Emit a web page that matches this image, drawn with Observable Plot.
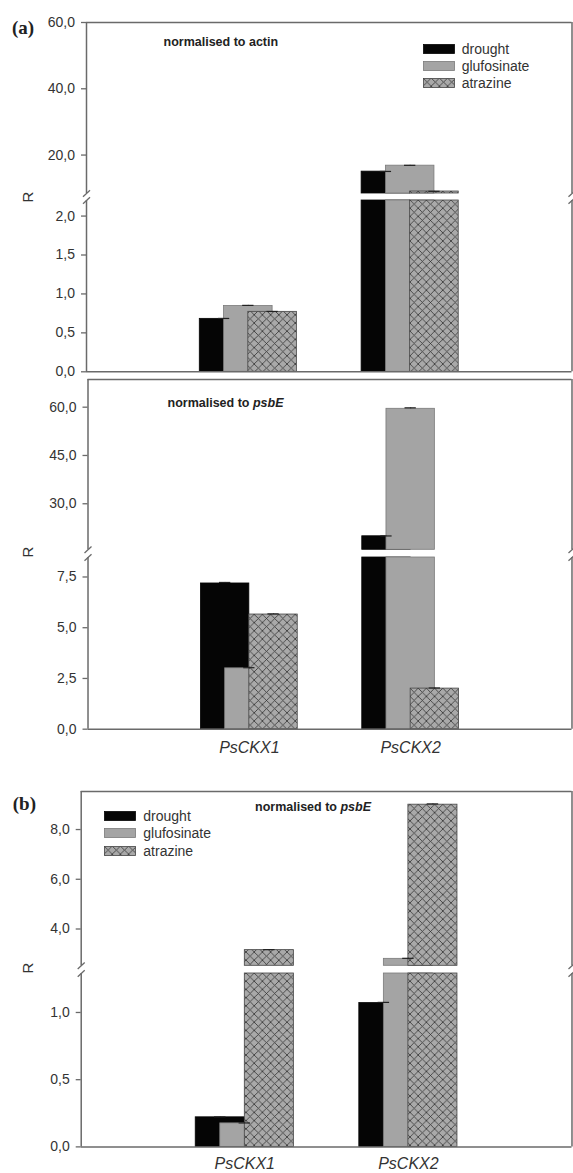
<!DOCTYPE html>
<html>
<head>
<meta charset="utf-8">
<script src="https://cdn.jsdelivr.net/npm/d3@7"></script>
<script src="https://cdn.jsdelivr.net/npm/@observablehq/plot@0.6"></script>
<style>
  body { margin: 0; background: #fff; }
  #fig { position: relative; width: 573px; height: 1173px; overflow: hidden;
         font-family: "Liberation Sans", Arial, sans-serif; color: #333; background: #fff; }
  .seg { position: absolute; left: 0; }
  .ov { position: absolute; white-space: nowrap; line-height: 1; }
  .title { font-weight: bold; font-size: 12.5px; color: #222; transform: translate(-50%, -50%); }
  .ylab { font-size: 15px; color: #333; transform: translate(-50%, -50%) rotate(-90deg); }
  .plabel { font-family: "Liberation Serif", "Times New Roman", serif; font-weight: bold; font-size: 19px; color: #222; transform: translateY(-50%); }
  .legtxt { font-size: 14px; color: #333; transform: translateY(-50%); }
  .sw { position: absolute; transform: translateY(-50%); }
</style>
</head>
<body>
<div id="fig"></div>
<script>
// ---------- data ----------
const genes = ["PsCKX1", "PsCKX2"];
const treatments = ["drought", "glufosinate", "atrazine"];

// (a) normalised to actin
const actinDrought     = [0.68, 15.0];
const actinGlufosinate = [0.845, 16.8];
const actinAtrazine    = [0.77, 9.0];
const actinErrDrought     = [0.005, 0.05];
const actinErrGlufosinate = [0.008, 0.1];
const actinErrAtrazine    = [0.005, 0.05];

// (a) normalised to psbE
const psbEaDrought     = [7.18, 19.9];
const psbEaGlufosinate = [3.0, 59.5];
const psbEaAtrazine    = [5.65, 2.0];
const psbEaErrDrought     = [0.05, 0.1];
const psbEaErrGlufosinate = [0.03, 0.3];
const psbEaErrAtrazine    = [0.03, 0.03];

// (b) normalised to psbE
const psbEbDrought     = [0.22, 1.07];
const psbEbGlufosinate = [0.175, 2.8];
const psbEbAtrazine    = [3.15, 9.0];
const psbEbErrDrought     = [0.003, 0.005];
const psbEbErrGlufosinate = [0.003, 0.02];
const psbEbErrAtrazine    = [0.02, 0.03];

// broken y-axis: lower and upper segment domains
const actinLower = [0, 2.2],  actinUpper = [8.4, 60];
const psbEaLower = [0, 8.46], psbEaUpper = [15.7, 68.6];
const psbEbLower = [0, 1.29], psbEbUpper = [2.52, 9.53];

const actinTicksLower = [0, 0.5, 1.0, 1.5, 2.0], actinTicksUpper = [20, 40, 60];
const psbEaTicksLower = [0, 2.5, 5.0, 7.5],      psbEaTicksUpper = [30, 45, 60];
const psbEbTicksLower = [0, 0.5, 1.0],           psbEbTicksUpper = [4, 6, 8];

// ---------- drawing ----------
const fmt = d => d.toFixed(1).replace(".", ",");
const fig = document.getElementById("fig");
const NS = "http://www.w3.org/2000/svg";
const W = 573;
const axisStroke = "#6a6a6a";
let patCount = 0;

function patternDefs(id) {
  return `<pattern id="${id}" patternUnits="userSpaceOnUse" width="8.2" height="8.2">
    <rect width="8.2" height="8.2" fill="#a9a9a9"/>
    <path d="M0,0L8.2,8.2M8.2,0L0,8.2" stroke="#333" stroke-width="0.8" fill="none"/>
  </pattern>`;
}

// one segment of a broken-axis panel
function segment({T, B, domain, upper, mt, mb, xR, values, errors, ticks, showX, xPad, drawTop}) {
  const patId = "hatch" + (patCount++);
  const [lo, hi] = domain;
  const rows = [];
  genes.forEach((g, gi) => treatments.forEach((t, si) =>
    rows.push({gene: g, gi, treatment: t, si, value: values[si][gi], err: errors[si][gi]})));
  const half = 0.15; // half bar width, in category units
  const center = d => d.gi + 1 + (d.si - 1) * half;
  const left = d => d.gi + 1 + (d.si - 2) * half;
  const right = d => left(d) + 2 * half;

  const fills = ["#050505", "#a4a4a4", `url(#${patId})`];
  const strokes = ["#050505", "#7a7a7a", "#444"];

  const ppu = (B - T) / (hi - lo);            // px per data unit (y)
  const ppx = (xR[1] - xR[0]) / 3;            // px per category unit (x)
  const edge = upper ? lo : hi;               // value at the break
  const breaks = [0, 3].map(xv => ({
    x1: xv - 3.5 / ppx, y1: edge - 3.2 / ppu, x2: xv + 3.5 / ppx, y2: edge + 3.2 / ppu
  }));

  const marks = [];
  treatments.forEach((t, k) => {
    marks.push(Plot.rect(rows.filter(d => d.si === k && d.value > lo), {
      x1: left, x2: right, y1: () => Math.max(0, lo), y2: d => Math.min(d.value, hi),
      fill: fills[k], stroke: strokes[k], strokeWidth: 0.8
    }));
  });
  const capRows = rows.filter(d => d.value > lo && d.value + d.err < hi);
  marks.push(Plot.ruleX(capRows, {x: center, y1: "value", y2: d => d.value + d.err, stroke: "#222", strokeWidth: 1}));
  marks.push(Plot.ruleY(capRows, {y: d => d.value + d.err, x1: d => center(d) - 0.035, x2: d => center(d) + 0.035, stroke: "#222", strokeWidth: 1.2}));
  // frame
  marks.push(Plot.ruleX([0, 3], {y1: () => lo, y2: () => hi, stroke: axisStroke, strokeWidth: 1.5}));
  if (drawTop) marks.push(Plot.ruleY([hi], {x1: () => 0, x2: () => 3, stroke: axisStroke, strokeWidth: 1.5}));
  if (!upper) marks.push(Plot.ruleY([0], {x1: () => 0, x2: () => 3, stroke: axisStroke, strokeWidth: 1.5}));
  marks.push(Plot.link(breaks, {x1: "x1", y1: "y1", x2: "x2", y2: "y2", stroke: axisStroke, strokeWidth: 1.3}));
  marks.push(Plot.axisY(ticks, {tickFormat: fmt, tickSize: 5, tickPadding: 6.5, fontSize: 14,
    stroke: axisStroke, fill: "#333", strokeWidth: 1.3, label: null}));
  if (showX) {
    marks.push(Plot.axisX([1, 2], {tickFormat: d => genes[d - 1], tickSize: 0, tickPadding: xPad,
      fontSize: 16, fontStyle: "italic", fill: "#333", label: null}));
  }

  const height = (B - T) + mt + mb;
  const svg = Plot.plot({
    width: W, height,
    marginLeft: xR[0], marginRight: W - xR[1], marginTop: mt, marginBottom: mb,
    x: Object.assign({domain: [0, 3]}, showX ? {} : {axis: null}),
    y: {domain: [lo, hi]},
    style: {fontFamily: '"Liberation Sans", Arial, sans-serif', fontSize: "14px", color: "#333",
            background: "transparent", overflow: "visible"},
    marks
  });
  const defs = document.createElementNS(NS, "defs");
  defs.innerHTML = patternDefs(patId);
  svg.insertBefore(defs, svg.firstChild);
  svg.querySelectorAll('[aria-label="x-axis tick label"] text').forEach(t => t.style.fontStyle = "italic");
  const wrap = document.createElement("div");
  wrap.className = "seg";
  wrap.style.top = (T - mt) + "px";
  wrap.appendChild(svg);
  fig.appendChild(wrap);
}

function panel({upperT, upperB, lowerT, lowerB, lowerD, upperD, lowerTicks, upperTicks, xR, values, errors, showX, mbLower, xPad}) {
  segment({T: upperT, B: upperB, domain: upperD, upper: true, mt: 3, mb: 0, xR, values, errors,
           ticks: upperTicks, showX: false, drawTop: true});
  segment({T: lowerT, B: lowerB, domain: lowerD, upper: false, mt: 0, mb: mbLower, xR, values, errors,
           ticks: lowerTicks, showX, xPad, drawTop: false});
}

panel({upperT: 21.7, upperB: 192.7, lowerT: 200.4, lowerB: 371.7,
  lowerD: actinLower, upperD: actinUpper, lowerTicks: actinTicksLower, upperTicks: actinTicksUpper,
  xR: [86, 571.5], values: [actinDrought, actinGlufosinate, actinAtrazine],
  errors: [actinErrDrought, actinErrGlufosinate, actinErrAtrazine], showX: false, mbLower: 3});

panel({upperT: 379, upperB: 549.3, lowerT: 557.3, lowerB: 729,
  lowerD: psbEaLower, upperD: psbEaUpper, lowerTicks: psbEaTicksLower, upperTicks: psbEaTicksUpper,
  xR: [87.5, 571.5], values: [psbEaDrought, psbEaGlufosinate, psbEaAtrazine],
  errors: [psbEaErrDrought, psbEaErrGlufosinate, psbEaErrAtrazine], showX: true, mbLower: 40, xPad: 12.3});

panel({upperT: 790.7, upperB: 965, lowerT: 973.3, lowerB: 1146.7,
  lowerD: psbEbLower, upperD: psbEbUpper, lowerTicks: psbEbTicksLower, upperTicks: psbEbTicksUpper,
  xR: [80.7, 571.5], values: [psbEbDrought, psbEbGlufosinate, psbEbAtrazine],
  errors: [psbEbErrDrought, psbEbErrGlufosinate, psbEbErrAtrazine], showX: true, mbLower: 26.3, xPad: 10.6});

// ---------- overlays: labels, titles, legends ----------
function ov(cls, html, x, y) {
  const d = document.createElement("div");
  d.className = "ov " + cls;
  d.style.left = x + "px"; d.style.top = y + "px";
  d.innerHTML = html;
  fig.appendChild(d);
}
ov("plabel", "(a)", 12, 26.7);
ov("plabel", "(b)", 12.8, 803.3);
ov("title", "normalised to actin", 220.8, 42.3);
ov("title", "normalised to <i>psbE</i>", 225.5, 403.3);
ov("title", "normalised to <i>psbE</i>", 313, 806.7);
ov("ylab", "R", 27, 196.7);
ov("ylab", "R", 27, 551.7);
ov("ylab", "R", 27, 968.3);

const swFill = ["#050505", "#a4a4a4", "url(#legHatch)"];
const swStroke = ["#050505", "#7a7a7a", "#444"];
function legend(x, textX, ys, key) {
  treatments.forEach((t, i) => {
    const s = document.createElementNS(NS, "svg");
    s.setAttribute("width", 32); s.setAttribute("height", 10);
    s.setAttribute("class", "sw");
    s.style.left = x + "px"; s.style.top = ys[i] + "px";
    const fill = i === 2 ? `url(#legHatch${key})` : swFill[i];
    s.innerHTML = `<defs>${patternDefs("legHatch" + key)}</defs><rect x="0.5" y="0.5" width="31" height="9" fill="${fill}" stroke="${swStroke[i]}" stroke-width="0.8"/>`;
    fig.appendChild(s);
    ov("legtxt", t, textX, ys[i]);
  });
}
legend(423, 461.7, [48.8, 65.5, 83], "A");
legend(104, 143.3, [816, 833.3, 850.7], "B");
</script>
</body>
</html>
